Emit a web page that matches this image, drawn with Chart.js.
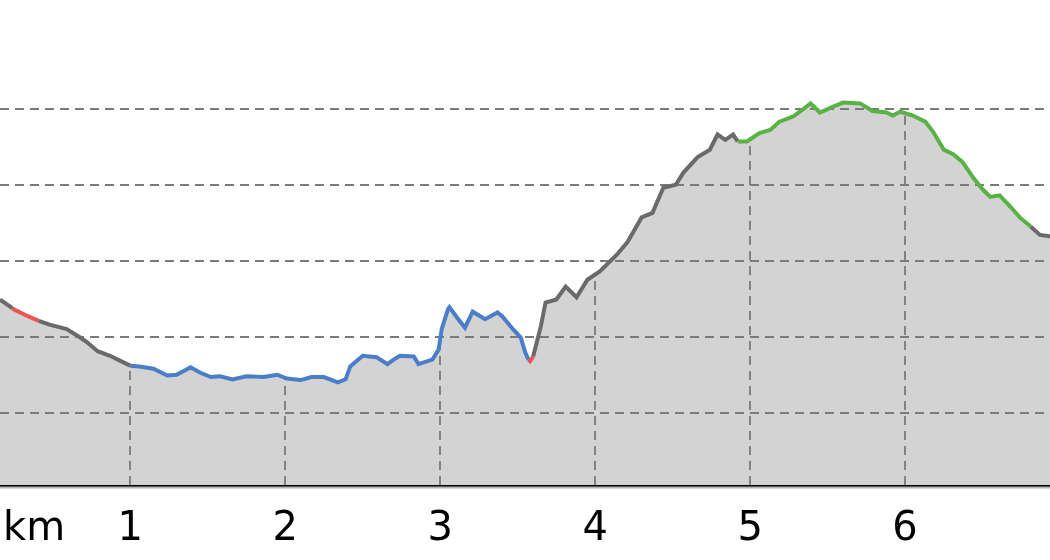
<!DOCTYPE html>
<html>
<head>
<meta charset="utf-8">
<script src="https://cdn.jsdelivr.net/npm/chart.js@4.4.1/dist/chart.umd.min.js"></script>
<style>
	html, body { margin: 0; padding: 0; background: #fff; }
	#wrap { width: 1050px; height: 560px; position: relative; }
</style>
</head>
<body>
<div id="wrap"><canvas id="myChart" width="1050" height="560"></canvas></div>
<script>
// Perfil de elevación (distancia en km, altura en m)
const distanceKm = [
	0.16, 0.23, 0.24, 0.32, 0.41, 0.48, 0.59, 0.67, 0.72, 0.79, 0.87, 0.94,
	1.00, 1.06, 1.15, 1.24, 1.30, 1.39, 1.45, 1.52, 1.58, 1.66, 1.75, 1.86,
	1.95, 2.01, 2.10, 2.17, 2.25, 2.34, 2.39, 2.42, 2.50, 2.59, 2.66, 2.70,
	2.74, 2.83, 2.86, 2.95, 2.99, 3.01, 3.05, 3.06, 3.11, 3.16, 3.21, 3.29,
	3.37, 3.40, 3.47, 3.52, 3.55, 3.57, 3.58, 3.60, 3.65, 3.68, 3.75, 3.81,
	3.88, 3.95, 4.03, 4.14, 4.21, 4.30, 4.37, 4.44, 4.52, 4.57, 4.66, 4.74,
	4.79, 4.84, 4.89, 4.92, 4.98, 5.06, 5.13, 5.19, 5.28, 5.34, 5.39, 5.45,
	5.54, 5.60, 5.71, 5.79, 5.88, 5.92, 5.97, 6.05, 6.13, 6.18, 6.25, 6.31,
	6.37, 6.44, 6.50, 6.55, 6.61, 6.68, 6.74, 6.81, 6.87, 6.94,
];
const elevation = [
	124.9, 123.9, 123.7, 122.9, 122.1, 121.6, 121.0, 120.0, 119.3, 118.1, 117.5, 116.8,
	116.2, 116.1, 115.8, 114.9, 115.0, 116.0, 115.3, 114.7, 114.8, 114.4, 114.8, 114.7,
	115.0, 114.5, 114.3, 114.7, 114.7, 114.0, 114.4, 116.1, 117.5, 117.3, 116.4, 117.0,
	117.5, 117.4, 116.4, 117.0, 118.3, 121.0, 123.6, 123.9, 122.5, 121.2, 123.3, 122.3,
	123.2, 122.7, 121.0, 119.9, 117.9, 117.0, 116.8, 117.4, 121.4, 124.5, 124.9, 126.6,
	125.2, 127.5, 128.6, 130.8, 132.5, 135.7, 136.3, 139.6, 140.0, 141.6, 143.6, 144.6,
	146.6, 145.9, 146.6, 145.7, 145.7, 146.8, 147.2, 148.3, 149.0, 149.9, 150.7, 149.5,
	150.3, 150.8, 150.7, 149.7, 149.5, 149.1, 149.6, 149.1, 148.3, 147.0, 144.6, 144.0,
	143.0, 140.9, 139.4, 138.4, 138.6, 137.1, 135.7, 134.5, 133.4, 133.2,
];

// Tramos del recorrido (inicio en km y tipo)
const sectionStart = [0.16, 0.24, 0.41, 1.00, 3.565, 3.59, 4.92, 6.81];
const sectionKind = ['road', 'steep', 'road', 'trail', 'steep', 'road', 'forest', 'road'];

const xTickKm = [1, 2, 3, 4, 5, 6];
const elevationGrid = [110, 120, 130, 140, 150];

const kindColors = {
	road: '#6a6a6a',
	steep: '#ee5252',
	trail: '#4a7ec8',
	forest: '#58b344',
};

function sectionColor(km) {
	let kind = sectionKind[0];
	for (let i = 0; i < sectionStart.length; i++) {
		if (sectionStart[i] <= km + 1e-6) kind = sectionKind[i];
	}
	return kindColors[kind];
}

function elevationAt(km) {
	for (let i = 1; i < distanceKm.length; i++) {
		if (distanceKm[i] >= km) {
			const t = (km - distanceKm[i - 1]) / (distanceKm[i] - distanceKm[i - 1]);
			return elevation[i - 1] + t * (elevation[i] - elevation[i - 1]);
		}
	}
	return elevation[elevation.length - 1];
}

const points = distanceKm.map((d, i) => ({ x: d, y: elevation[i] }));

// Rejilla discontinua: horizontal completa, vertical solo bajo el perfil
const profileGrid = {
	id: 'profileGrid',
	afterDatasetDraw(chart, args) {
		if (args.index !== 1) return;
		const { ctx, chartArea, scales } = chart;
		ctx.save();
		ctx.strokeStyle = '#7a7a7a';
		ctx.lineWidth = 1.8;
		ctx.setLineDash([9, 6]);
		elevationGrid.forEach((v) => {
			const py = Math.round(scales.y.getPixelForValue(v));
			ctx.beginPath();
			ctx.moveTo(chartArea.left, py);
			ctx.lineTo(chartArea.right, py);
			ctx.stroke();
		});
		xTickKm.forEach((km) => {
			const px = Math.round(scales.x.getPixelForValue(km));
			ctx.beginPath();
			ctx.moveTo(px, chartArea.bottom);
			ctx.lineTo(px, scales.y.getPixelForValue(elevationAt(km)));
			ctx.stroke();
		});
		ctx.restore();
	},
	afterDraw(chart) {
		const { ctx, chartArea } = chart;
		ctx.save();
		// sombra gris bajo el eje
		ctx.fillStyle = '#b4b4b4';
		ctx.fillRect(chartArea.left, chartArea.bottom + 1.5, chartArea.right - chartArea.left, 2);
		ctx.font = '40px "DejaVu Sans"';
		ctx.fillStyle = '#000';
		ctx.textBaseline = 'middle';
		ctx.textAlign = 'left';
		ctx.fillText('km', 3, chartArea.bottom + 45);
		ctx.restore();
	},
};

const ctx = document.getElementById('myChart').getContext('2d');
const myChart = new Chart(ctx, {
	type: 'line',
	data: {
		datasets: [
			{
				data: points,
				borderColor: kindColors.road,
				borderWidth: 4,
				pointRadius: 0,
				fill: false,
				tension: 0,
				segment: {
					borderColor: (c) => sectionColor(c.p0.parsed.x),
				},
			},
			{
				data: points,
				borderWidth: 0,
				borderColor: 'rgba(0,0,0,0)',
				backgroundColor: '#d3d3d3',
				pointRadius: 0,
				fill: 'start',
				tension: 0,
			},
		],
	},
	options: {
		responsive: false,
		animation: false,
		layout: { padding: 0 },
		plugins: {
			legend: { display: false },
			tooltip: { enabled: false },
		},
		scales: {
			x: {
				type: 'linear',
				min: 0.16,
				max: 6.935,
				afterBuildTicks: (scale) => {
					scale.ticks = xTickKm.map((v) => ({ value: v }));
				},
				afterFit: (scale) => {
					scale.height = 75;
				},
				grid: { display: false },
				border: { display: true, color: '#000', width: 3 },
				ticks: {
					color: '#000',
					padding: 13,
					maxRotation: 0,
					autoSkip: false,
					font: { family: 'DejaVu Sans', size: 40 },
					callback: (v) => String(v),
				},
			},
			y: {
				display: false,
				min: 100.5,
				max: 164.3,
			},
		},
	},
	plugins: [profileGrid],
});
</script>
</body>
</html>
